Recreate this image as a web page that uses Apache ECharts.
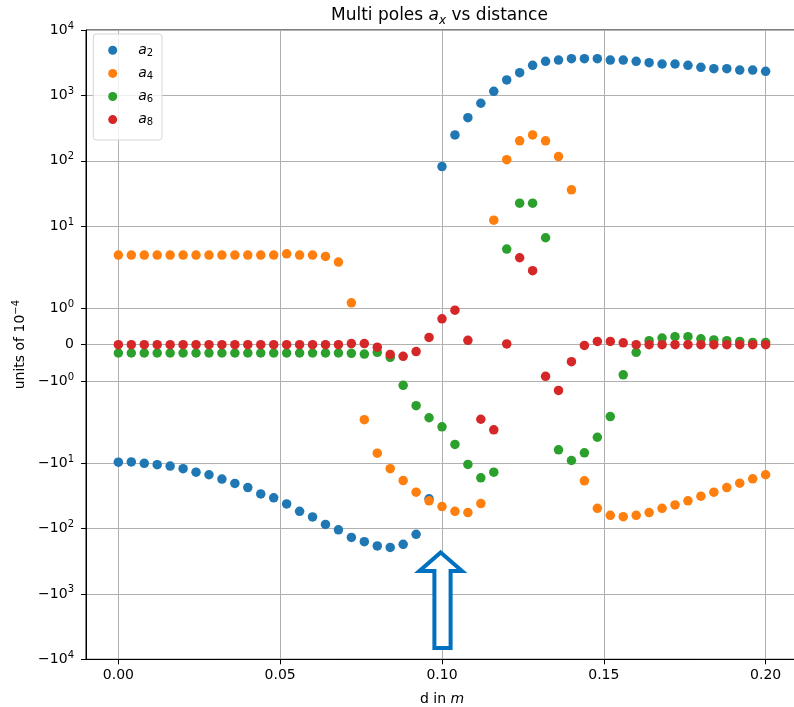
<!DOCTYPE html>
<html>
<head>
<meta charset="utf-8">
<script src="https://cdn.jsdelivr.net/npm/echarts@6/dist/echarts.min.js"></script>
<style>html,body{margin:0;padding:0;background:#fff;}#c{width:794px;height:707px;}</style>
</head>
<body>
<div id="c"></div>
<script>
// distance d (m)
const distance = [0,0.004,0.008,0.012,0.016,0.02,0.024,0.028,0.032,0.036,0.04,0.044,0.048,0.052,0.056,0.06,0.064,0.068,0.072,0.076,0.08,0.084,0.088,0.092,0.096,0.1,0.104,0.108,0.112,0.116,0.12,0.124,0.128,0.132,0.136,0.14,0.144,0.148,0.152,0.156,0.16,0.164,0.168,0.172,0.176,0.18,0.184,0.188,0.192,0.196,0.2];
const a2 = [-9.7,-9.6,-10.1,-10.6,-11.1,-12.2,-13.8,-15.1,-17.6,-20.5,-23.7,-29.6,-34.0,-42.1,-54.6,-66.6,-86.6,-105,-137,-159,-185,-195,-175,-123,-35.2,81.6,249,457,759,1156,1722,2223,2884,3319,3475,3640,3640,3640,3475,3475,3319,3162,3020,3020,2884,2690,2560,2560,2443,2443,2338];
const a4 = [3.62,3.62,3.62,3.62,3.62,3.62,3.62,3.62,3.62,3.62,3.62,3.62,3.62,3.79,3.62,3.62,3.45,2.83,1.15,-2.17,-7.05,-12.2,-18.5,-27.9,-37.8,-46.2,-54.6,-57.2,-41.6,12.4,104,202,249,202,116,36,-18.7,-49.2,-63,-66,-63,-57.2,-49.2,-43.6,-37.8,-32.1,-27.9,-23.7,-20.3,-17.4,-15.1];
const a6 = [-0.23,-0.23,-0.23,-0.23,-0.23,-0.23,-0.23,-0.23,-0.23,-0.23,-0.23,-0.23,-0.23,-0.23,-0.23,-0.23,-0.23,-0.23,-0.24,-0.26,-0.21,-0.35,-1.12,-1.68,-2.03,-2.79,-5.2,-10.5,-16.8,-13.8,4.48,22.5,22.5,6.67,-6.28,-9.14,-6.98,-4.03,-1.98,-0.83,-0.21,0.11,0.18,0.22,0.22,0.16,0.13,0.11,0.09,0.06,0.06];
const a8 = [0,0,0,0,0,0,0,0,0,0,0,0,0,0,0,0,0,0,0.03,0.03,-0.07,-0.27,-0.32,-0.19,0.2,0.71,0.95,0.12,-2.14,-3.1,0.02,3.3,2.09,-0.87,-1.26,-0.47,-0.02,0.09,0.09,0.05,0,0,0,0,0,0,0,0,0,0,0];
const seriesNames = ['a2','a4','a6','a8'];
const seriesSub = ['2','4','6','8'];
const yTickValues = [10000,1000,100,10,1,0,-1,-10,-100,-1000,-10000];
const yTickLabels = ['10^4','10^3','10^2','10^1','10^0','0','−10^0','−10^1','−10^2','−10^3','−10^4'];
const xTickValues = [0,0.05,0.1,0.15,0.2];
const xTickLabels = ['0.00','0.05','0.10','0.15','0.20'];

// matplotlib-style symlog (linthresh=2, linscale=1, base 10)
const LT = 2, LS = 1/(1-1/10);
function symlog(v){
  const a = Math.abs(v);
  if (a <= LT) return v / LT * LS;
  return Math.sign(v) * (LS + Math.log10(a / LT));
}
const YMAX = symlog(10000);
const FONT = 'DejaVu Sans';
const colors = ['#1f77b4','#ff7f0e','#2ca02c','#d62728'];
const allData = [a2,a4,a6,a8];

const yCustom = yTickValues.map(symlog);
function yLabel(val){
  let best = 0, bd = Infinity;
  yCustom.forEach((c,i)=>{ const d = Math.abs(c-val); if (d < bd){bd=d;best=i;} });
  const s = yTickLabels[best];
  const k = s.indexOf('^');
  if (k < 0) return '{b|' + s + '}';
  return '{b|' + s.slice(0,k) + '}{p|' + s.slice(k+1) + '}';
}
function xLabel(val){
  let best = 0, bd = Infinity;
  xTickValues.forEach((c,i)=>{ const d = Math.abs(c-val); if (d < bd){bd=d;best=i;} });
  return xTickLabels[best];
}

const chart = echarts.init(document.getElementById('c'), null, {renderer:'canvas'});
const option = {
  animation: false,
  backgroundColor: '#fff',
  textStyle: { fontFamily: FONT },
  title: {
    text: '{n|Multi poles }{i|a}{s|x}{n| vs distance}',
    left: 331, top: 5, padding: 0,
    textStyle: {
      fontWeight: 'normal',
      rich: {
        n: { fontFamily: FONT, fontSize: 17, fontWeight: 'normal', color: '#000', lineHeight: 22 },
        i: { fontFamily: FONT, fontSize: 17, fontWeight: 'normal', color: '#000', fontStyle: 'italic', lineHeight: 22 },
        s: { fontFamily: FONT, fontSize: 12, fontWeight: 'normal', color: '#000', fontStyle: 'italic', lineHeight: 12, verticalAlign: 'bottom' }
      }
    }
  },
  legend: {
    orient: 'vertical', left: 108.2, top: 43.3, padding: 0,
    itemWidth: 9, itemHeight: 9, itemGap: 8.1, icon: 'circle',
    data: seriesNames,
    formatter: function(name){ return '{i|a}{s|' + seriesSub[seriesNames.indexOf(name)] + '}'; },
    textStyle: {
      padding: [0,0,0,16],
      rich: {
        i: { fontFamily: FONT, fontSize: 14, fontStyle: 'italic', color: '#000', lineHeight: 16 },
        s: { fontFamily: FONT, fontSize: 10, color: '#000', lineHeight: 10, verticalAlign: 'bottom' }
      }
    },
    z: 6
  },
  grid: { left: 86, right: -4, top: 30, bottom: 47.7, show: true, borderColor: '#000', borderWidth: 1,
    backgroundColor: 'transparent', containLabel: false, outerBoundsMode: 'none' },
  xAxis: {
    type: 'value', min: -0.01, max: 0.21,
    name: 'd in {i|m}', nameLocation: 'middle', nameGap: 33,
    nameTextStyle: { fontFamily: FONT, fontSize: 14, color: '#000',
      rich: { i: { fontFamily: FONT, fontSize: 14, fontStyle: 'italic', color: '#000' } } },
    axisLine: { onZero: false, lineStyle: { color: '#000', width: 1 } },
    axisTick: { customValues: xTickValues, length: 5, lineStyle: { color: '#000' } },
    axisLabel: { customValues: xTickValues, formatter: xLabel, margin: 9, fontFamily: FONT, fontSize: 14, color: '#000' },
    splitLine: { show: true, lineStyle: { color: '#b0b0b0', width: 1 } }
  },
  yAxis: {
    type: 'value', min: -YMAX, max: YMAX,
    name: '{n|units of 10}{p|−4}', nameLocation: 'middle', nameGap: 57, nameRotate: 90,
    nameTextStyle: { rich: {
      n: { fontFamily: FONT, fontSize: 14, color: '#000', lineHeight: 18 },
      p: { fontFamily: FONT, fontSize: 10, color: '#000', lineHeight: 14, verticalAlign: 'top' }
    } },
    axisLine: { onZero: false, lineStyle: { color: '#000', width: 1 } },
    axisTick: { customValues: yCustom, length: 5, lineStyle: { color: '#000' } },
    axisLabel: { customValues: yCustom, formatter: yLabel, margin: 12, fontFamily: FONT,
      rich: {
        b: { fontFamily: FONT, fontSize: 14, color: '#000', lineHeight: 18 },
        p: { fontFamily: FONT, fontSize: 10, color: '#000', lineHeight: 15, verticalAlign: 'top' }
      } },
    splitLine: { show: true, lineStyle: { color: '#b0b0b0', width: 1 } }
  },
  series: seriesNames.map((n, k) => ({
    name: n, type: 'scatter', symbol: 'circle', symbolSize: 9.5,
    itemStyle: { color: colors[k], opacity: 1 },
    data: distance.map((x, i) => [x, symlog(allData[k][i])]),
    z: 2 + k
  })),
  graphic: [
    { type: 'rect', z: 5, shape: { x: 93.3, y: 34, width: 68.7, height: 106, r: 3 },
      style: { fill: 'rgba(255,255,255,0.8)', stroke: '#d6d6d6', lineWidth: 1 } },
    { type: 'polygon', z: 10,
      shape: { points: [[440.7,552.5],[462,571],[450.6,571],[450.6,648],[434.4,648],[434.4,571],[419.4,571]] },
      style: { fill: '#fff', stroke: '#0070c0', lineWidth: 4, lineJoin: 'miter' } }
  ]
};
chart.setOption(option);
</script>
</body>
</html>
